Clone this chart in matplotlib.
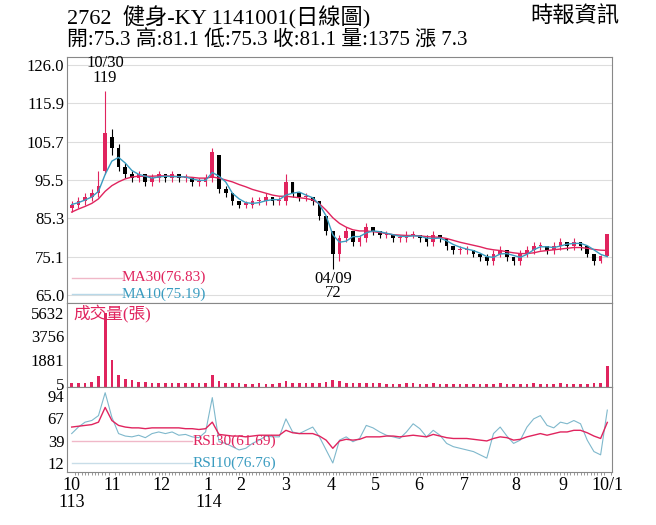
import numpy as np
import matplotlib
matplotlib.use("Agg")
import matplotlib.pyplot as plt

plt.rcParams['font.family'] = ['Liberation Serif', 'Noto Sans CJK TC']

# one candle ~ 3 trading days, 2024/10/01 .. 2025/10/01
opens = [88, 89, 90, 91, 92, 98, 107, 104, 99, 97, 96, 97, 95, 96, 97, 96, 97, 96, 96, 95,
         95, 96, 102, 93, 92, 90, 89, 89, 90, 90, 91, 90, 90, 95, 92, 91, 91, 90, 86, 82,
         76, 80, 82, 79, 80, 83, 82, 81, 81, 80, 80, 81, 81, 80, 79, 81, 80, 78, 77, 77,
         77, 76, 75, 74, 76, 77, 75, 74, 76, 77, 78, 78, 77, 78, 79, 78, 79, 78, 76, 74, 75.3]
closes = [89, 90, 91, 92, 94, 108, 104, 99, 97, 96, 97, 95, 96, 97, 96, 97, 96, 96, 95, 95,
          96, 103, 93, 92, 90, 89, 89, 90, 90, 91, 90, 90, 95, 92, 91, 91, 90, 86, 82, 76,
          80, 82, 79, 80, 83, 82, 81, 81, 80, 80, 81, 81, 80, 79, 81, 80, 78, 77, 77, 77,
          76, 75, 74, 76, 77, 75, 74, 76, 77, 78, 78, 77, 78, 79, 78, 79, 78, 76, 74, 75.3, 81.1]
highs = [90, 91, 92, 93, 98, 119, 109, 105, 100, 98, 98, 97, 97, 98, 97, 98, 97, 97, 96, 96,
         97, 104, 102, 94, 92, 90, 90, 91, 91, 92, 91, 91, 97, 95, 92, 92, 91, 90, 86, 82,
         81, 83, 82, 81, 84, 83, 82, 82, 81, 81, 82, 82, 81, 81, 82, 81, 80, 78, 78, 78,
         77, 76, 76, 77, 78, 77, 75, 77, 78, 79, 79, 78, 79, 80, 79, 80, 79, 78, 76, 75.5, 81.1]
lows = [87, 88, 89, 90, 91, 97, 102, 98, 96, 95, 95, 94, 94, 95, 95, 95, 95, 95, 94, 94,
        94, 95, 92, 91, 89, 88, 88, 88, 89, 89, 89, 89, 89, 91, 90, 90, 89, 85, 81, 72,
        74, 79, 78, 78, 79, 81, 80, 80, 79, 79, 79, 80, 79, 78, 78, 79, 77, 76, 76, 76,
        75, 74, 73, 73, 75, 74, 73, 73, 75, 76, 77, 76, 76, 77, 77, 77, 77, 75, 73, 73.5, 75.3]
ma30 = [87, 87.8, 88.5, 89.3, 90.5, 92.5, 94, 95, 95.8, 96.3, 96.5, 96.5, 96.5, 96.6, 96.6, 96.5, 96.4, 96.3, 96.2, 96,
        96, 96.3, 96, 95.5, 95, 94.3, 93.7, 93, 92.5, 92, 91.5, 91.2, 91.2, 91, 90.8, 90.6, 90.2, 89.2, 87.5, 85.5,
        84, 83, 82.3, 82, 82, 81.8, 81.6, 81.3, 81, 80.9, 80.8, 80.8, 80.7, 80.5, 80.4, 80.3, 80, 79.5, 79, 78.6,
        78.2, 77.8, 77.3, 77, 76.8, 76.5, 76.2, 76, 76, 76.2, 76.6, 76.8, 77, 77.2, 77.4, 77.6, 77.6, 77.4, 77.1, 76.9, 76.83]
ma10 = [89, 89.5, 90.2, 91, 92.5, 97, 100.5, 101.5, 100, 98, 97, 96.5, 96, 96.3, 96.5, 96.4, 96.4, 96.3, 95.8, 95.4,
        95.4, 97.5, 96.5, 95, 92, 90.5, 89.5, 89.3, 89.5, 90, 90.3, 90.3, 91.5, 92, 92.3, 91.5, 90.8, 89, 86, 81,
        79, 79.3, 80.5, 80.5, 81.5, 82, 81.8, 81.4, 81, 80.6, 80.5, 80.7, 80.6, 80.1, 80, 80.1, 79.4, 78.4, 77.7, 77.2,
        76.8, 76.1, 75.2, 75, 75.9, 76, 75.5, 75, 75.8, 77, 77.8, 77.8, 77.6, 78, 78.5, 78.7, 78.7, 78.1, 77, 75.8, 75.19]
volume = [40, 50, 70, 150, 600, 5632, 1900, 700, 400, 300, 150, 120, 90, 60, 50, 40, 40, 50, 40, 30,
          60, 700, 200, 70, 40, 30, 20, 20, 30, 20, 20, 30, 250, 80, 40, 30, 40, 60, 150, 300,
          250, 100, 60, 40, 50, 40, 30, 20, 20, 20, 30, 30, 20, 20, 30, 20, 20, 20, 15, 15,
          15, 20, 20, 20, 30, 20, 15, 20, 20, 30, 20, 20, 20, 30, 20, 20, 20, 20, 50, 40, 1375]
rsi30 = [56, 57, 58, 59, 62, 80, 64, 58, 56, 55, 55, 54, 55, 55, 55, 55, 55, 54, 54, 53,
         54, 62, 47, 46, 45, 45, 44, 45, 46, 46, 46, 46, 52, 49, 48, 48, 48, 45, 40, 30,
         39, 41, 40, 41, 44, 44, 44, 45, 45, 44, 45, 46, 45, 44, 47, 45, 43, 42, 42, 42,
         41, 40, 39, 42, 44, 43, 40, 41, 44, 46, 48, 46, 48, 50, 50, 52, 52, 49, 45, 42, 61.69]
rsi10 = [48, 56, 62, 64, 70, 98, 68, 48, 45, 44, 46, 43, 48, 50, 48, 50, 46, 47, 44, 43,
         50, 92, 38, 36, 32, 28, 30, 36, 40, 45, 44, 44, 66, 50, 48, 52, 56, 44, 28, 12,
         40, 44, 38, 42, 58, 55, 50, 46, 44, 42, 50, 60, 54, 44, 52, 46, 36, 32, 30, 28,
         26, 22, 18, 48, 56, 45, 36, 40, 56, 66, 70, 58, 55, 62, 60, 64, 60, 40, 26, 22, 76.76]

month_pos = [0, 6, 13.4, 20.4, 25.3, 32, 38.7, 45.4, 51.8, 58.7, 66.3, 73.3, 80]
month_lab = ['10\n113', '11', '12', '1\n114', '2', '3', '4', '5', '6', '7', '8', '9', '10/1']

RED = '#e0245e'
BLUE = '#3a9cc0'
x = np.arange(len(closes))

fig = plt.figure(figsize=(6.56, 5.25), dpi=100)
W, H = 656, 525
def ax_at(l, t, r, b):
    return fig.add_axes([l / W, 1 - b / H, (r - l) / W, (b - t) / H])

ax1 = ax_at(67, 57, 612, 303)
ax2 = ax_at(67, 303, 612, 387)
ax3 = ax_at(67, 387, 612, 472)

for ax in (ax1, ax2, ax3):
    ax.set_xlim(-0.7, 80.7)
    for s in ax.spines.values():
        s.set_color('#888888')
    ax.tick_params(axis='y', length=0, labelsize=12, pad=2)
    ax.tick_params(axis='x', length=0)
    ax.set_xticks([])

# price
for i in x:
    c = RED if closes[i] >= opens[i] else 'black'
    ax1.vlines(i, lows[i], highs[i], color=c, lw=0.8)
    lo, hi = sorted([opens[i], closes[i]])
    ax1.bar(i, max(hi - lo, 0.3), bottom=lo, width=0.55, color=c)
ax1.plot(x, ma30, color=RED, lw=1)
ax1.plot(x, ma10, color=BLUE, lw=1)
yt = [65.0, 75.1, 85.3, 95.5, 105.7, 115.9, 126.0]
ax1.set_ylim(62.9, 128.1)
ax1.set_yticks(yt)
ax1.set_yticklabels([f'{v:.1f}' for v in yt])
ax1.grid(axis='y', color='#dddddd', lw=0.8)
ax1.set_axisbelow(True)
ax1.text(5, 120.5, '10/30\n119', ha='center', va='bottom', fontsize=12, linespacing=0.9)
ax1.text(39, 71.5, '04/09\n72', ha='center', va='top', fontsize=12, linespacing=0.9)
ax1.plot([0, 7.5], [69.6, 69.6], color='#f0b8c8', lw=1)
ax1.plot([0, 7.5], [65.3, 65.3], color='#b8d8e8', lw=1)
ax1.text(7.5, 69.6, 'MA30(76.83)', color=RED, fontsize=11, va='center')
ax1.text(7.5, 65.3, 'MA10(75.19)', color=BLUE, fontsize=11, va='center')

# volume
vb = -250
ax2.bar(x, np.array(volume) - vb, bottom=vb, width=0.4, color=RED)
ax2.set_ylim(vb, 6400)
vt = [5, 1881, 3756, 5632]
ax2.set_yticks(vt)
ax2.set_yticklabels([str(v) for v in vt])
ax2.text(0.2, 6250, '成交量(張)', color=RED, fontsize=12, va='top')

# rsi
ax3.plot(x, rsi10, color='#7fb8cc', lw=0.8)
ax3.plot(x, rsi30, color=RED, lw=1)
ax3.set_ylim(1, 105)
rt = [12, 39, 67, 94]
ax3.set_yticks(rt)
ax3.set_yticklabels([str(v) for v in rt])
ax3.plot([0, 18], [39, 39], color='#f0b8c8', lw=1)
ax3.plot([0, 18], [12, 12], color='#c8dde8', lw=1)
ax3.text(18, 39, 'RSI30(61.69)', color=RED, fontsize=11, va='center')
ax3.text(18, 12, 'RSI10(76.76)', color=BLUE, fontsize=11, va='center')
ax3.set_xticks(month_pos)
ax3.set_xticklabels(month_lab, fontsize=13, linespacing=1.0, va='top')
ax3.set_xticks(np.arange(0, 81, 0.5), minor=True)
ax3.tick_params(axis='x', which='minor', length=2, color='#888888')
for lab in ax3.get_xticklabels():
    lab.set_horizontalalignment('center')

fig.text(67 / W, 1 - 6 / H, '2762  健身-KY 1141001(日線圖)', fontsize=16, va='top')
fig.text(530 / W, 1 - 6 / H, '時報資訊', fontsize=16, va='top')
fig.text(67 / W, 1 - 30 / H, '開:75.3 高:81.1 低:75.3 收:81.1 量:1375 漲 7.3', fontsize=15, va='top')

fig.savefig('out.png', dpi=100)
